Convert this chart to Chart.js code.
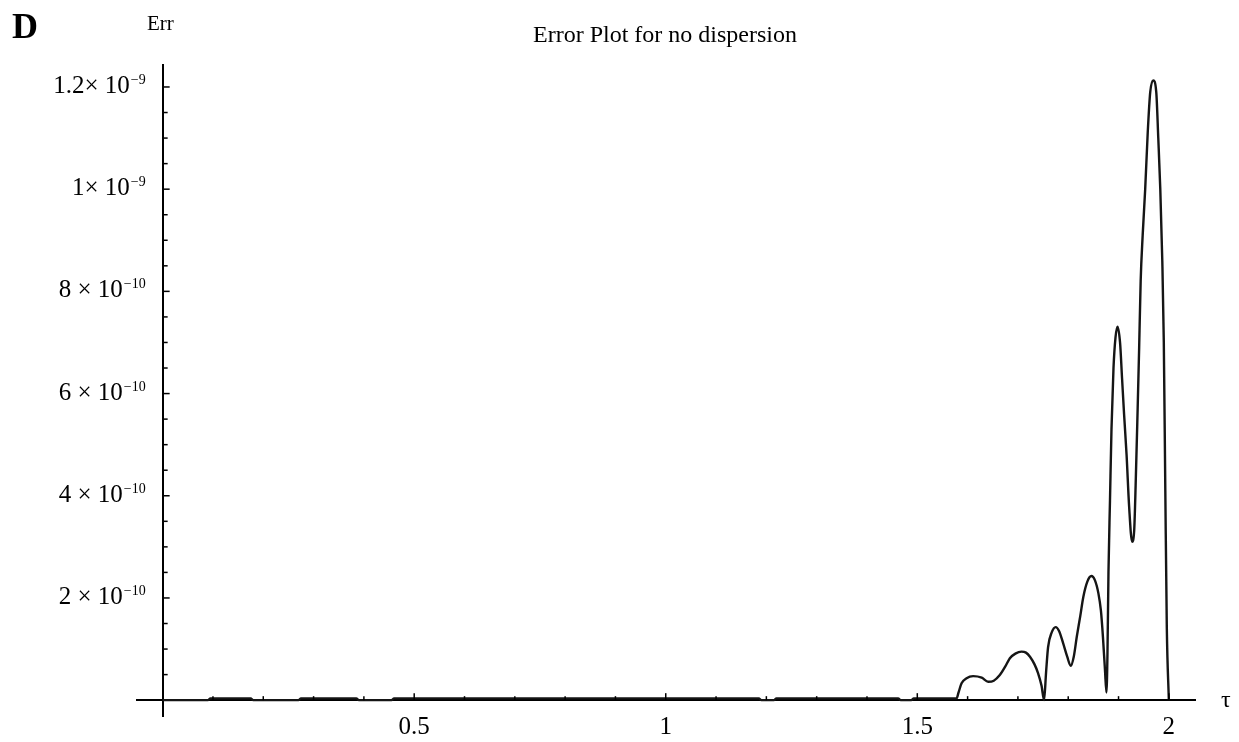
<!DOCTYPE html>
<html>
<head>
<meta charset="utf-8">
<title>Error Plot for no dispersion</title>
<script src="https://cdn.jsdelivr.net/npm/chart.js@4.4.1/dist/chart.umd.min.js"></script>
<style>
    html, body { margin: 0; padding: 0; background: #fff; }
    #wrap { width: 1239px; height: 742px; position: relative; }
</style>
</head>
<body>
<div id="wrap"><canvas id="errChart"></canvas></div>
<script>
// Values. Err is stored in units of 1e-10.
const tau = [
    0, 0.090, 0.095, 0.175, 0.180, 0.270, 0.275, 0.385, 0.390, 0.455,
    0.460, 1.185, 1.190, 1.215, 1.220, 1.462, 1.467, 1.488, 1.493, 1.578,
    1.582, 1.588, 1.598, 1.611, 1.628, 1.641, 1.652, 1.664, 1.675, 1.684,
    1.695, 1.707, 1.716, 1.724, 1.733, 1.740, 1.747, 1.752, 1.756, 1.760,
    1.767, 1.775, 1.782, 1.790, 1.798, 1.805, 1.811, 1.817, 1.824, 1.830,
    1.838, 1.846, 1.853, 1.860, 1.865, 1.869, 1.873, 1.876, 1.878, 1.880,
    1.883, 1.886, 1.890, 1.894, 1.898, 1.903, 1.907, 1.911, 1.916, 1.921,
    1.927, 1.931, 1.934, 1.938, 1.941, 1.944, 1.948, 1.953, 1.958, 1.963,
    1.969, 1.975, 1.979, 1.983, 1.987, 1.990, 1.993, 1.996, 2.000
];
const errE10 = [
    0, 0, 0.035, 0.035, 0, 0, 0.035, 0.035, 0, 0,
    0.035, 0.035, 0, 0, 0.035, 0.035, 0, 0, 0.035, 0.035,
    0.15, 0.33, 0.43, 0.47, 0.44, 0.36, 0.38, 0.49, 0.66, 0.82,
    0.91, 0.95, 0.93, 0.85, 0.70, 0.53, 0.28, 0.0, 0.55, 1.04,
    1.32, 1.43, 1.35, 1.11, 0.85, 0.67, 0.85, 1.24, 1.65, 2.02,
    2.32, 2.43, 2.35, 2.09, 1.75, 1.24, 0.60, 0.15, 0.90, 2.50,
    3.90, 5.30, 6.50, 7.10, 7.31, 7.00, 6.30, 5.60, 4.80, 3.80,
    3.10, 3.30, 4.20, 5.70, 6.90, 8.20, 9.10, 10.00, 11.10, 11.90,
    12.13, 11.90, 11.00, 10.00, 8.60, 7.00, 4.10, 1.40, 0
];

const xTickValues = [0.5, 1, 1.5, 2];
const xTickLabels = ['0.5', '1', '1.5', '2'];
const yTickValues = [2e-10, 4e-10, 6e-10, 8e-10, 1e-9, 1.2e-9];
const yTickBase = ['2 × 10', '4 × 10', '6 × 10', '8 × 10', '1× 10', '1.2× 10'];
const yTickExp = ['−10', '−10', '−10', '−10', '−9', '−9'];

const SERIF = '"Liberation Serif", "Times New Roman", serif';

// Mathematica style: ticks pointing inwards, labels beside the crossing axes
const mathematicaAxes = {
    id: 'mathematicaAxes',
    afterDraw(chart) {
        const ctx = chart.ctx;
        const xs = chart.scales.x;
        const ys = chart.scales.y;
        const x0 = xs.getPixelForValue(0);
        const y0 = ys.getPixelForValue(0);

        ctx.save();
        ctx.strokeStyle = '#000';
        ctx.lineWidth = 1.5;

        for (let i = 1; i <= 20; i++) {
            const px = xs.getPixelForValue(i / 10);
            const len = i % 5 === 0 ? 7 : 4;
            ctx.beginPath();
            ctx.moveTo(px, y0);
            ctx.lineTo(px, y0 - len);
            ctx.stroke();
        }
        for (let i = 1; i <= 24; i++) {
            const py = ys.getPixelForValue(i * 0.5e-10);
            const len = i % 4 === 0 ? 7 : 5;
            ctx.beginPath();
            ctx.moveTo(x0, py);
            ctx.lineTo(x0 + len, py);
            ctx.stroke();
        }

        ctx.fillStyle = '#000';

        // x labels
        ctx.font = '25px ' + SERIF;
        ctx.textAlign = 'center';
        ctx.textBaseline = 'middle';
        xTickValues.forEach((v, i) => {
            ctx.fillText(xTickLabels[i], xs.getPixelForValue(v), y0 + 27);
        });

        // y labels with superscript exponent
        ctx.textAlign = 'left';
        ctx.textBaseline = 'alphabetic';
        const right = x0 - 17;
        yTickValues.forEach((v, i) => {
            const py = ys.getPixelForValue(v);
            ctx.font = '14px ' + SERIF;
            const wExp = ctx.measureText(yTickExp[i]).width;
            ctx.font = '25px ' + SERIF;
            const wBase = ctx.measureText(yTickBase[i]).width;
            ctx.fillText(yTickBase[i], right - wExp - wBase - 1, py + 6);
            ctx.font = '14px ' + SERIF;
            ctx.fillText(yTickExp[i], right - wExp, py - 3);
        });

        // panel letter, axis names, title
        ctx.font = 'bold 36px ' + SERIF;
        ctx.fillText('D', 12, 38);
        ctx.font = '21px ' + SERIF;
        ctx.fillText('Err', 147, 30);
        ctx.font = '24px ' + SERIF;
        ctx.textAlign = 'left';
        ctx.textBaseline = 'middle';
        ctx.fillText('τ', xs.right + 26, y0 + 1);
        ctx.font = '24px ' + SERIF;
        ctx.textAlign = 'center';
        ctx.textBaseline = 'alphabetic';
        ctx.fillText('Error Plot for no dispersion', 665, 42);

        ctx.restore();
    }
};

function initializeChart() {
    const ctx = document.getElementById('errChart');
    if (!ctx) return;

    const points = tau.map((t, i) => ({ x: t, y: errE10[i] * 1e-10 }));

    new Chart(ctx, {
        type: 'line',
        data: {
            datasets: [{
                label: 'Err',
                data: points,
                borderColor: '#151515',
                borderWidth: 2.4,
                pointRadius: 0,
                fill: false,
                cubicInterpolationMode: 'monotone'
            }]
        },
        options: {
            responsive: true,
            maintainAspectRatio: false,
            animation: false,
            layout: {
                padding: { left: 137, right: 44, top: 65, bottom: 26 }
            },
            plugins: {
                legend: { display: false },
                tooltip: { enabled: false },
                title: { display: false }
            },
            scales: {
                x: {
                    type: 'linear',
                    min: -0.051,
                    max: 2.052,
                    position: { y: 0 },
                    grid: { drawOnChartArea: false, drawTicks: false },
                    border: { display: true, color: '#000', width: 2 },
                    ticks: { display: false }
                },
                y: {
                    type: 'linear',
                    min: -0.31e-10,
                    max: 12.43e-10,
                    position: { x: 0 },
                    grid: { drawOnChartArea: false, drawTicks: false },
                    border: { display: true, color: '#000', width: 2 },
                    ticks: { display: false }
                }
            }
        },
        plugins: [mathematicaAxes]
    });
}

document.addEventListener('DOMContentLoaded', initializeChart);
</script>
</body>
</html>
